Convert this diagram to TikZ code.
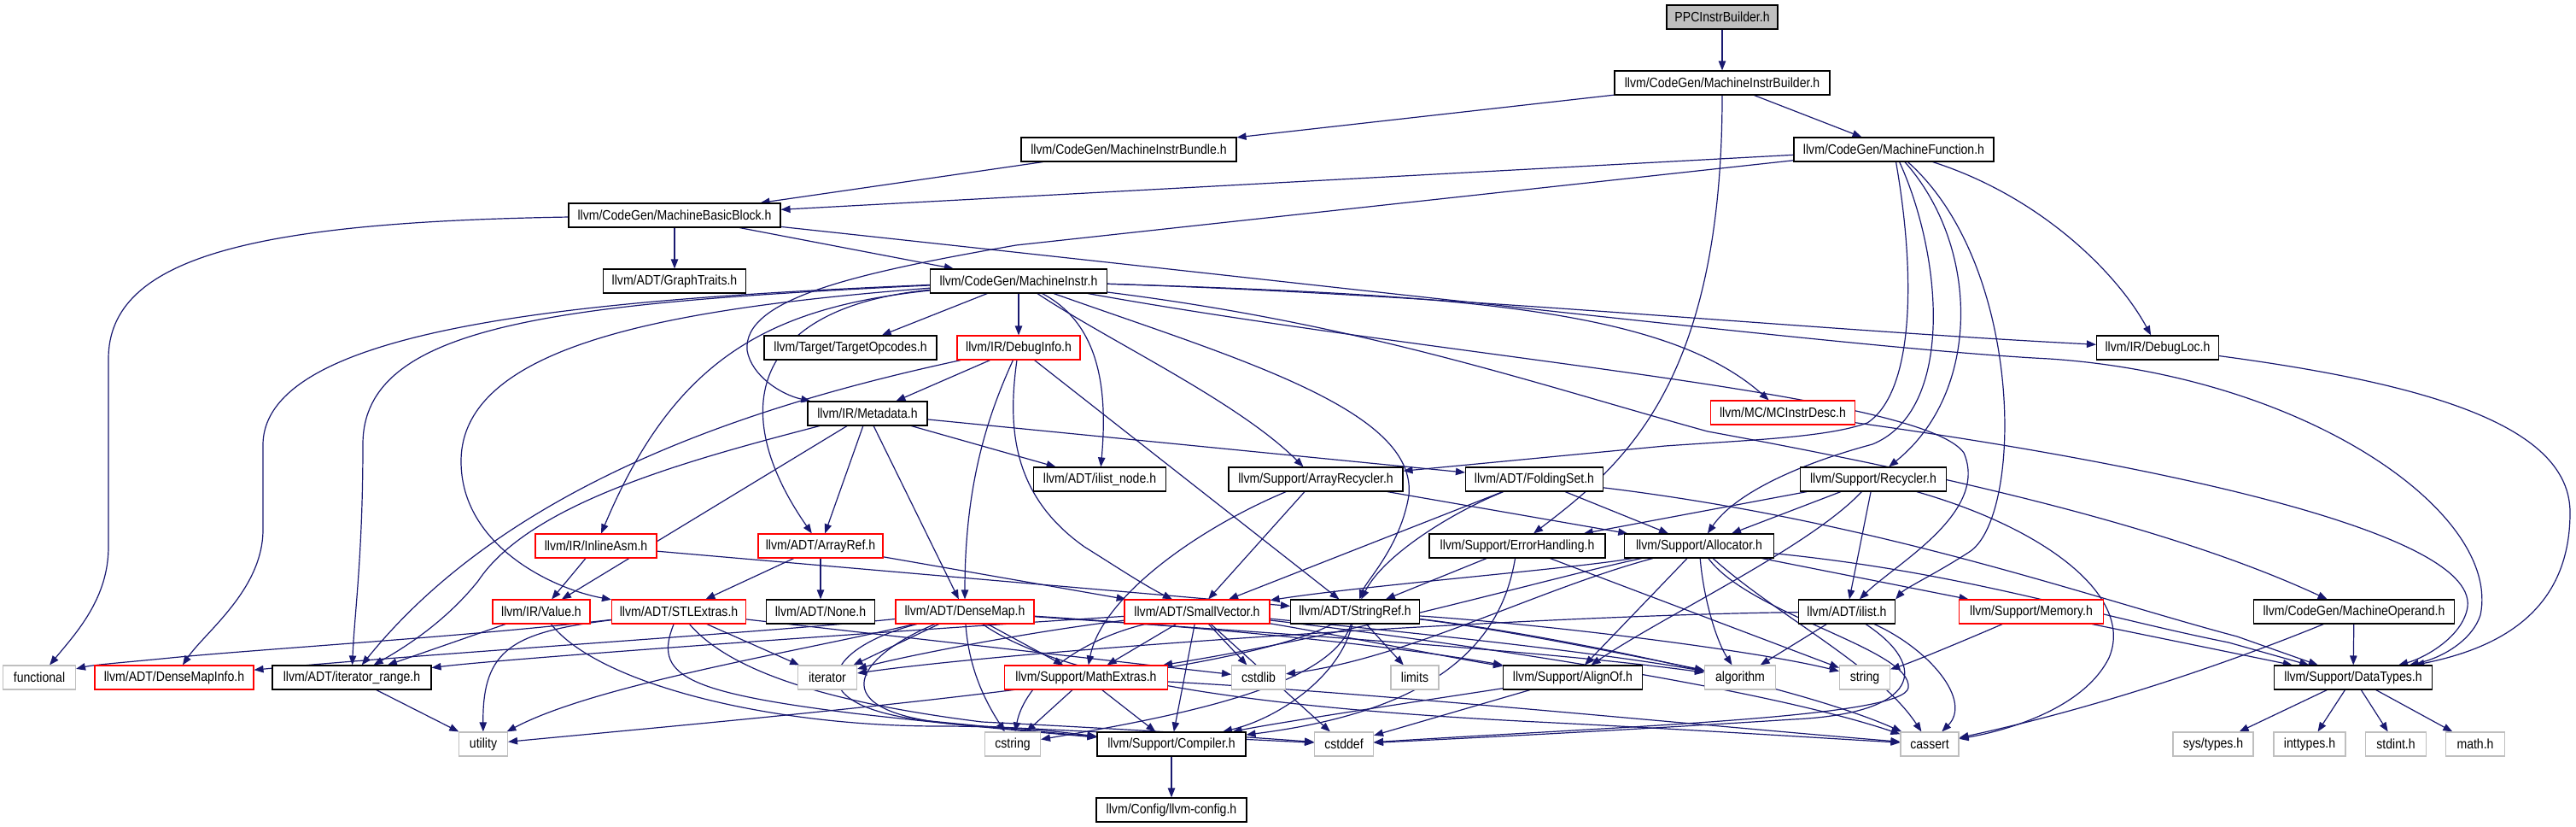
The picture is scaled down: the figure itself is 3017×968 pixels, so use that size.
\documentclass[tikz,border=0pt]{standalone}
\usepackage{fontspec}
\setmainfont{Liberation Sans}[FakeStretch=0.88]
\usetikzlibrary{arrows.meta}
\definecolor{edgec}{HTML}{191970}
\definecolor{graybd}{HTML}{BFBFBF}
\pgfdeclarelayer{bg}
\pgfsetlayers{bg,main}
\begin{document}
\begin{tikzpicture}[x=0.5pt,y=-0.5pt,
 nb/.style={draw=black, line width=0.55pt, fill=white, minimum height=14pt, inner sep=0pt, font=\fontsize{8}{9}\selectfont},
 rb/.style={nb, draw=red},
 gb/.style={nb, draw=graybd},
 w/.style={minimum width={#1*0.5pt}},
 edge/.style={draw=edgec, line width=0.6pt, -{Triangle[length=5.5pt,width=4.2pt]}}]
\useasboundingbox (0,0) rectangle (3017,968);
\node[nb,fill=graybd,w=130] (root) at (2017,20) {PPCInstrBuilder.h};
\node[nb,w=252] (mib) at (2017,97) {llvm/CodeGen/MachineInstrBuilder.h};
\node[nb,w=252] (bundle) at (1322,175) {llvm/CodeGen/MachineInstrBundle.h};
\node[nb,w=234] (mf) at (2218,175) {llvm/CodeGen/MachineFunction.h};
\node[nb,w=248] (mbb) at (790,252) {llvm/CodeGen/MachineBasicBlock.h};
\node[nb,w=167] (graph) at (790,329) {llvm/ADT/GraphTraits.h};
\node[nb,w=207] (mi) at (1193,329) {llvm/CodeGen/MachineInstr.h};
\node[nb,w=202] (topc) at (996,407) {llvm/Target/TargetOpcodes.h};
\node[rb,w=144] (dinfo) at (1193,407) {llvm/IR/DebugInfo.h};
\node[rb,w=169] (mcid) at (2088,483) {llvm/MC/MCInstrDesc.h};
\node[nb,w=143] (dloc) at (2527,407) {llvm/IR/DebugLoc.h};
\node[nb,w=140] (meta) at (1016,484) {llvm/IR/Metadata.h};
\node[nb,w=155] (ilnode) at (1288,561) {llvm/ADT/ilist\_node.h};
\node[nb,w=204] (arec) at (1541,561) {llvm/Support/ArrayRecycler.h};
\node[nb,w=161] (fold) at (1797,561) {llvm/ADT/FoldingSet.h};
\node[nb,w=171] (recyc) at (2194,561) {llvm/Support/Recycler.h};
\node[rb,w=142] (iasm) at (698,639) {llvm/IR/InlineAsm.h};
\node[rb,w=146] (aref) at (961,639) {llvm/ADT/ArrayRef.h};
\node[nb,w=206] (err) at (1777,639) {llvm/Support/ErrorHandling.h};
\node[nb,w=175] (alloc) at (1990,639) {llvm/Support/Allocator.h};
\node[rb,w=114] (value) at (634,716) {llvm/IR/Value.h};
\node[rb,w=157] (stl) at (795,716) {llvm/ADT/STLExtras.h};
\node[nb,w=127] (none) at (961,716) {llvm/ADT/None.h};
\node[rb,w=162] (dmap) at (1130,716) {llvm/ADT/DenseMap.h};
\node[rb,w=170] (svec) at (1402,716) {llvm/ADT/SmallVector.h};
\node[nb,w=151] (sref) at (1587,716) {llvm/ADT/StringRef.h};
\node[nb,w=113] (ilist) at (2163,716) {llvm/ADT/ilist.h};
\node[rb,w=169] (mem) at (2379,716) {llvm/Support/Memory.h};
\node[nb,w=235] (mop) at (2757,716) {llvm/CodeGen/MachineOperand.h};
\node[gb,w=85] (func) at (46,793) {functional};
\node[rb,w=186] (dmi) at (204,793) {llvm/ADT/DenseMapInfo.h};
\node[nb,w=186] (irange) at (412,793) {llvm/ADT/iterator\_range.h};
\node[gb,w=69] (iter) at (969,793) {iterator};
\node[rb,w=191] (mathx) at (1272,793) {llvm/Support/MathExtras.h};
\node[gb,w=63] (cstdlib) at (1474,793) {cstdlib};
\node[gb,w=56] (limits) at (1657,793) {limits};
\node[nb,w=163] (alignof) at (1842,793) {llvm/Support/AlignOf.h};
\node[gb,w=83] (algo) at (2038,793) {algorithm};
\node[gb,w=59] (string) at (2184,793) {string};
\node[nb,w=185] (dtypes) at (2756,793) {llvm/Support/DataTypes.h};
\node[gb,w=57] (utility) at (566,871) {utility};
\node[gb,w=65] (cstring) at (1186,871) {cstring};
\node[nb,w=174] (compiler) at (1372,871) {llvm/Support/Compiler.h};
\node[gb,w=69] (cstddef) at (1574,871) {cstddef};
\node[gb,w=68] (cassert) at (2260,871) {cassert};
\node[gb,w=94] (systypes) at (2592,871) {sys/types.h};
\node[gb,w=84] (inttypes) at (2705,871) {inttypes.h};
\node[gb,w=71] (stdint) at (2806,871) {stdint.h};
\node[gb,w=69] (math) at (2899,871) {math.h};
\node[nb,w=176] (config) at (1372,948) {llvm/Config/llvm-config.h};
\begin{pgfonlayer}{bg}
% top
\draw[edge] (root) -- (mib);
\draw[edge] (mib) -- (bundle);
\draw[edge] (mib) -- (mf);
\draw[edge] (mib) .. controls (2017,450) and (1900,545) .. (err);
\draw[edge] (bundle) -- (mbb);
% MachineFunction
\draw[edge] (mf) -- (mbb);
\draw[edge] (mf) -- (1190,287) .. controls (1000,320) and (870,350) .. (875,410) .. controls (880,440) and (915,462) .. (meta);
\draw[edge] (mf) .. controls (2245,330) and (2240,460) .. (2187,495) .. controls (2140,512) and (2050,515) .. (1950,522) -- (arec);
\draw[edge] (mf) .. controls (2275,300) and (2290,480) .. (2193,520) .. controls (2100,545) and (2030,580) .. (alloc);
\draw[edge] (mf) .. controls (2320,290) and (2320,460) .. (recyc);
\draw[edge] (mf) .. controls (2370,310) and (2370,600) .. (2308,645) .. controls (2270,670) and (2232,688) .. (ilist.north east);
\draw[edge] (mf) .. controls (2390,230) and (2480,320) .. (dloc);
% MachineBasicBlock
\draw[edge] (mbb) -- (graph);
\draw[edge] (mbb) -- (mi);
\draw[edge] (mbb) .. controls (300,260) and (127,300) .. (127,420) -- (127,640) .. controls (127,700) and (90,740) .. (func);
\draw[edge] (mbb) .. controls (1700,350) and (2200,410) .. (2400,420) .. controls (2700,440) and (2930,600) .. (2905,720) .. controls (2895,750) and (2860,770) .. (dtypes);
% MachineInstr
\draw[edge] (mi) -- (topc);
\draw[edge] (mi) -- (dinfo);
\draw[edge] (mi) .. controls (1290,380) and (1297,460) .. (ilnode);
\draw[edge] (mi) .. controls (1300,400) and (1450,470) .. (arec);
\draw[edge] (mi) .. controls (1450,420) and (1660,480) .. (1650,580) .. controls (1640,640) and (1600,680) .. (sref);
\draw[edge] (mi) .. controls (1700,345) and (2100,385) .. (dloc);
\draw[edge] (mi) .. controls (1700,345) and (1950,360) .. (mcid);
\draw[edge] (mi) .. controls (1700,420) and (2250,460) .. (2300,530) .. controls (2330,600) and (2220,660) .. (ilist);
\draw[edge] (mi) .. controls (1600,380) and (1800,450) .. (2000,505) .. controls (2300,560) and (2550,620) .. (mop);
\draw[edge] (mi) .. controls (900,360) and (790,420) .. (iasm);
\draw[edge] (mi) .. controls (880,360) and (850,480) .. (aref);
\draw[edge] (mi) .. controls (800,360) and (540,400) .. (540,540) .. controls (540,640) and (650,690) .. (stl);
\draw[edge] (mi) .. controls (700,350) and (310,380) .. (308,520) -- (308,620) .. controls (308,690) and (240,740) .. (dmi);
\draw[edge] (mi) .. controls (650,355) and (425,380) .. (425,520) .. controls (425,650) and (415,720) .. (irange);
% DebugInfo
\draw[edge] (dinfo) .. controls (900,470) and (600,560) .. (irange);
\draw[edge] (dinfo) -- (meta);
\draw[edge] (dinfo) .. controls (1160,480) and (1130,560) .. (dmap);
\draw[edge] (dinfo) .. controls (1180,500) and (1185,580) .. (1270,640) .. controls (1310,665) and (1340,685) .. (svec);
\draw[edge] (dinfo) -- (sref);
% Metadata
\draw[edge] (meta) .. controls (800,540) and (620,590) .. (560,680) .. controls (520,730) and (470,760) .. (irange);
\draw[edge] (meta) -- (value);
\draw[edge] (meta) -- (aref);
\draw[edge] (meta) -- (dmap);
\draw[edge] (meta) -- (ilnode);
\draw[edge] (meta) -- (fold);
% InlineAsm, ArrayRef, Value
\draw[edge] (iasm) -- (value);
\draw[edge] (iasm) -- (sref);
\draw[edge] (aref) -- (stl);
\draw[edge] (aref) -- (none);
\draw[edge] (aref) -- (svec);
\draw[edge] (value) -- (irange);
\draw[edge] (value) .. controls (700,800) and (900,850) .. (1100,850) .. controls (1200,850) and (1250,858) .. (compiler);
% STLExtras
\draw[edge] (stl) .. controls (550,745) and (300,760) .. (200,770) .. controls (150,775) and (110,778) .. (func);
\draw[edge] (stl) .. controls (600,740) and (565,760) .. (utility);
\draw[edge] (stl) -- (iter);
\draw[edge] (stl) -- (cstdlib);
\draw[edge] (stl) .. controls (765,790) and (800,810) .. (1000,835) .. controls (1150,852) and (1250,860) .. (compiler);
\draw[edge] (stl) .. controls (850,780) and (950,820) .. (1150,845) .. controls (1350,855) and (1450,862) .. (cstddef);
% DenseMap
\draw[edge] (dmap) .. controls (900,740) and (500,765) .. (dmi);
\draw[edge] (dmap) .. controls (950,760) and (700,800) .. (utility);
\draw[edge] (dmap) -- (iter);
\draw[edge] (dmap) -- (mathx);
\draw[edge] (dmap) .. controls (1135,790) and (1160,830) .. (cstring);
\draw[edge] (dmap) .. controls (960,760) and (930,830) .. (1100,845) .. controls (1200,855) and (1260,860) .. (compiler);
\draw[edge] (dmap) .. controls (1000,770) and (950,840) .. (1150,850) .. controls (1350,860) and (1450,865) .. (cstddef);
\draw[edge] (dmap) .. controls (1350,730) and (1600,750) .. (alignof);
\draw[edge] (dmap) .. controls (1400,735) and (1800,760) .. (algo);
\draw[edge] (dmap) .. controls (1250,800) and (1500,830) .. (1800,845) .. controls (2000,855) and (2150,865) .. (cassert);
% SmallVector
\draw[edge] (svec) .. controls (1100,735) and (600,770) .. (irange);
\draw[edge] (svec) .. controls (1200,740) and (1050,770) .. (iter);
\draw[edge] (svec) -- (mathx);
\draw[edge] (svec) -- (cstdlib);
\draw[edge] (svec) -- (compiler);
\draw[edge] (svec) -- (cstddef);
\draw[edge] (svec) .. controls (1260,750) and (1200,800) .. (cstring);
\draw[edge] (svec) .. controls (1550,740) and (1700,770) .. (alignof);
\draw[edge] (svec) .. controls (1600,735) and (1850,760) .. (algo);
\draw[edge] (svec) .. controls (1650,745) and (2050,800) .. (cassert);
% StringRef
\draw[edge] (sref) .. controls (1750,735) and (1900,765) .. (algo);
\draw[edge] (sref) .. controls (1800,740) and (2100,800) .. (cassert);
\draw[edge] (sref) .. controls (1560,800) and (1400,835) .. (cstring);
\draw[edge] (sref) -- (limits);
\draw[edge] (sref) .. controls (1800,730) and (2050,760) .. (string);
\draw[edge] (sref) .. controls (1450,790) and (1000,830) .. (utility);
\draw[edge] (sref) .. controls (1570,790) and (1500,840) .. (compiler);
% MathExtras, AlignOf
\draw[edge] (mathx) -- (cstring);
\draw[edge] (mathx) -- (compiler);
\draw[edge] (mathx) .. controls (1600,810) and (2000,850) .. (cassert);
\draw[edge] (alignof) .. controls (1700,815) and (1500,845) .. (compiler);
\draw[edge] (alignof) -- (cstddef);
% ErrorHandling
\draw[edge] (err) -- (sref);
\draw[edge] (err) .. controls (1760,740) and (1700,830) .. (compiler);
\draw[edge] (err) -- (string);
% Allocator
\draw[edge] (alloc) .. controls (1850,665) and (1600,685) .. (svec);
\draw[edge] (alloc) -- (alignof);
\draw[edge] (alloc) .. controls (1995,700) and (2010,750) .. (algo);
\draw[edge] (alloc) .. controls (2300,670) and (2450,720) .. (2610,752) -- (dtypes);
\draw[edge] (alloc) .. controls (1800,680) and (1600,740) .. (mathx);
\draw[edge] (alloc) .. controls (1800,690) and (1650,770) .. (cstdlib);
\draw[edge] (alloc) -- (mem);
\draw[edge] (alloc) .. controls (2080,720) and (2200,780) .. (cassert);
\draw[edge] (alloc) .. controls (2050,720) and (2240,760) .. (2235,805) .. controls (2230,840) and (1900,850) .. (cstddef);
% Recycler
\draw[edge] (recyc) -- (err);
\draw[edge] (recyc) -- (alloc);
\draw[edge] (recyc) .. controls (2120,640) and (1950,720) .. (alignof);
\draw[edge] (recyc) -- (ilist);
\draw[edge] (recyc) .. controls (2400,620) and (2500,700) .. (2470,770) .. controls (2440,830) and (2350,855) .. (cassert);
% ilist
\draw[edge] (ilist) .. controls (1800,720) and (1200,760) .. (iter);
\draw[edge] (ilist) -- (algo);
\draw[edge] (ilist) .. controls (2260,760) and (2310,820) .. (cassert);
\draw[edge] (ilist) .. controls (2260,780) and (2250,835) .. (2100,842) .. controls (1900,855) and (1700,865) .. (cstddef);
% Memory, MachineOperand
\draw[edge] (mem) -- (dtypes);
\draw[edge] (mem) .. controls (2300,750) and (2240,775) .. (string);
\draw[edge] (mop) -- (dtypes);
\draw[edge] (mop) .. controls (2600,780) and (2450,830) .. (cassert);
% DataTypes and leaves
\draw[edge] (dtypes) -- (systypes);
\draw[edge] (dtypes) -- (inttypes);
\draw[edge] (dtypes) -- (stdint);
\draw[edge] (dtypes) -- (math);
\draw[edge] (compiler) -- (config);
\draw[edge] (irange) -- (utility);
\draw[edge] (dloc) .. controls (2850,450) and (3010,500) .. (3010,600) .. controls (3010,720) and (2920,760) .. (dtypes);
\draw[edge] (mcid) .. controls (2500,540) and (2900,620) .. (2890,710) .. controls (2885,745) and (2840,770) .. (dtypes);
% FoldingSet, ArrayRecycler
\draw[edge] (fold) .. controls (2200,610) and (2450,700) .. (2620,745) -- (dtypes);
\draw[edge] (fold) -- (svec);
\draw[edge] (fold) .. controls (1700,600) and (1620,650) .. (sref);
\draw[edge] (fold) -- (alloc);
\draw[edge] (arec) -- (svec);
\draw[edge] (arec) .. controls (1400,620) and (1290,700) .. (mathx);
\draw[edge] (arec) -- (alloc);
\end{pgfonlayer}
\end{tikzpicture}
\end{document}
